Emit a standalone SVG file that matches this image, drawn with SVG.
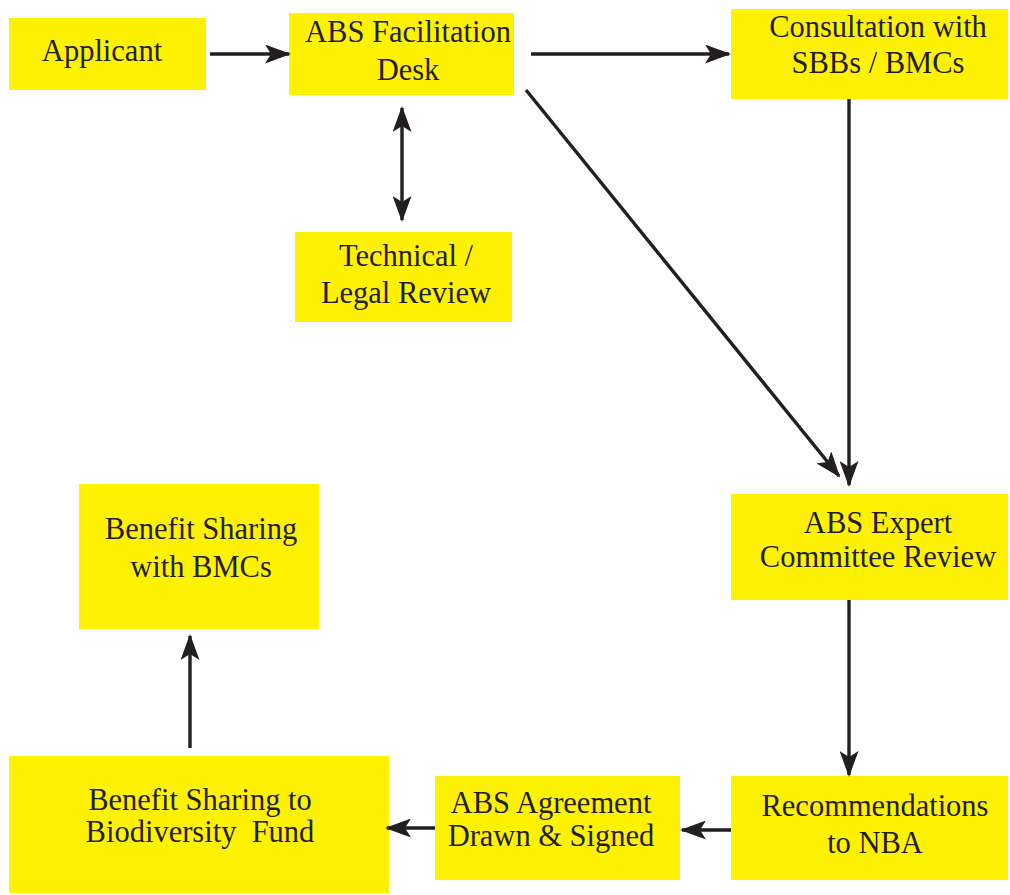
<svg xmlns="http://www.w3.org/2000/svg" width="1010" height="895" viewBox="0 0 1010 895">
<defs>
<style>
.box{fill:#fff200;}
text{font-family:'Liberation Serif','Times New Roman',serif;font-size:30.5px;fill:#231f20;text-anchor:middle;}
.c{stroke:#231f20;stroke-width:3.4;fill:none;}
</style>
<marker id="ah" viewBox="0 0 26 19" refX="24" refY="9.5" markerWidth="26" markerHeight="19" markerUnits="userSpaceOnUse" orient="auto-start-reverse">
<path d="M0,0 L26,9.5 L0,19 L6,9.5 Z" fill="#231f20"/>
</marker>
</defs>
<rect width="1010" height="895" fill="#fff"/>
<g id="applicant"><rect class="box" x="9" y="18" width="197" height="72"/><text x="102" y="61">Applicant</text></g>
<g id="desk"><rect class="box" x="289" y="13" width="225" height="82"/><text x="408" y="42">ABS Facilitation</text><text x="408" y="80">Desk</text></g>
<g id="consult"><rect class="box" x="731" y="9" width="277" height="90"/><text x="878" y="37">Consultation with</text><text x="878" y="73">SBBs / BMCs</text></g>
<g id="technical"><rect class="box" x="295" y="232" width="217" height="90"/><text x="406" y="266">Technical /</text><text x="406" y="303">Legal Review</text></g>
<g id="expert"><rect class="box" x="731" y="494" width="277" height="106"/><text x="878" y="533">ABS Expert</text><text x="878" y="567">Committee Review</text></g>
<g id="bmcs"><rect class="box" x="79" y="484" width="240" height="145"/><text x="201" y="539">Benefit Sharing</text><text x="201" y="577">with BMCs</text></g>
<g id="recommend"><rect class="box" x="731" y="776" width="277" height="104"/><text x="875" y="816">Recommendations</text><text x="875" y="853">to NBA</text></g>
<g id="agreement"><rect class="box" x="435" y="776" width="245" height="104"/><text x="551" y="813">ABS Agreement</text><text x="551" y="846">Drawn &amp; Signed</text></g>
<g id="fund"><rect class="box" x="9" y="756" width="380" height="137"/><text x="200" y="810">Benefit Sharing to</text><text x="200" y="842" xml:space="preserve">Biodiversity  Fund</text></g>
<g id="connectors">
<line class="c" x1="210" y1="54" x2="289" y2="54" marker-end="url(#ah)"/>
<line class="c" x1="531" y1="54" x2="729" y2="54" marker-end="url(#ah)"/>
<line class="c" x1="402" y1="108" x2="402" y2="220" marker-start="url(#ah)" marker-end="url(#ah)"/>
<line class="c" x1="526" y1="90" x2="839" y2="476" marker-end="url(#ah)"/>
<line class="c" x1="849" y1="99" x2="849" y2="485" marker-end="url(#ah)"/>
<line class="c" x1="849" y1="600" x2="849" y2="775" marker-end="url(#ah)"/>
<line class="c" x1="731" y1="830" x2="682" y2="830" marker-end="url(#ah)"/>
<line class="c" x1="435" y1="828" x2="387" y2="828" marker-end="url(#ah)"/>
<line class="c" x1="190" y1="748" x2="190" y2="636" marker-end="url(#ah)"/>
</g>
</svg>
